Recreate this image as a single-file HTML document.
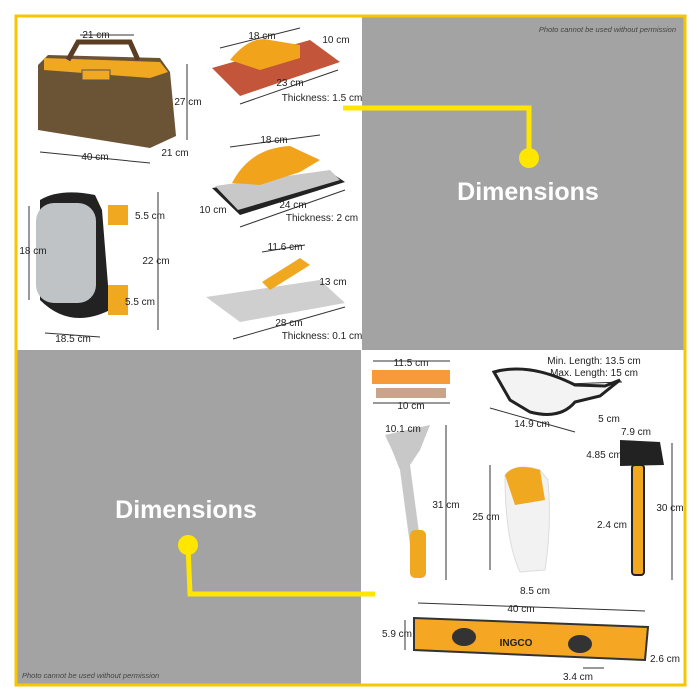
<!DOCTYPE html>
<html><head><style>
body{margin:0;width:700px;height:700px;background:#fff;overflow:hidden;font-family:"Liberation Sans",sans-serif}
svg{position:absolute;left:0;top:0}
</style></head><body>
<svg width="700" height="700" viewBox="0 0 700 700" font-family="Liberation Sans, sans-serif">
<rect x="0" y="0" width="700" height="700" fill="#fff"/>
<rect x="362" y="17" width="323" height="333" fill="#a3a3a3"/>
<rect x="17" y="350" width="344" height="334" fill="#a3a3a3"/>
<rect x="16" y="16" width="669" height="669" fill="none" stroke="#f7c600" stroke-width="3"/>
<text x="676" y="32" font-size="7.5" font-style="italic" fill="#444" text-anchor="end">Photo cannot be used without permission</text>
<text x="22" y="678" font-size="7.5" font-style="italic" fill="#444">Photo cannot be used without permission</text>
<polyline points="343,108 529,108 529,158" fill="none" stroke="#ffe600" stroke-width="5"/>
<circle cx="529" cy="158" r="10" fill="#ffe600"/>
<text x="528" y="200" font-size="25" font-weight="bold" fill="#fff" text-anchor="middle">Dimensions</text>
<polyline points="188,545 190,594 375,594" fill="none" stroke="#ffe600" stroke-width="5"/>
<circle cx="188" cy="545" r="10" fill="#ffe600"/>
<text x="186" y="518" font-size="25" font-weight="bold" fill="#fff" text-anchor="middle">Dimensions</text>

<g stroke="#333" stroke-width="1" fill="none">
<line x1="80" y1="35" x2="134" y2="35"/><line x1="187" y1="64" x2="187" y2="140"/>
<line x1="40" y1="152" x2="150" y2="163"/><line x1="29" y1="206" x2="29" y2="300"/>
<line x1="158" y1="192" x2="158" y2="330"/><line x1="45" y1="333" x2="100" y2="337"/>
<line x1="220" y1="48" x2="300" y2="28"/><line x1="240" y1="104" x2="338" y2="70"/>
<line x1="230" y1="147" x2="320" y2="135"/><line x1="240" y1="227" x2="345" y2="190"/>
<line x1="233" y1="339" x2="345" y2="307"/><line x1="262" y1="252" x2="305" y2="245"/>
<line x1="373" y1="361" x2="450" y2="361"/><line x1="373" y1="403" x2="450" y2="403"/>
<line x1="446" y1="425" x2="446" y2="580"/><line x1="490" y1="465" x2="490" y2="570"/>
<line x1="672" y1="443" x2="672" y2="580"/><line x1="418" y1="603" x2="645" y2="611"/>
<line x1="405" y1="620" x2="405" y2="650"/><line x1="583" y1="668" x2="604" y2="668"/>
<line x1="490" y1="408" x2="575" y2="432"/><line x1="566" y1="384" x2="622" y2="382"/>
</g>
<g font-size="10" fill="#222">
<path d="M38,65 L48,55 L160,58 L170,72 L176,136 L150,148 L38,130 Z" fill="#6b5436"/>
<path d="M44,58 L160,62 L168,72 L150,78 L44,70Z" fill="#f0a820"/>
<rect x="82" y="70" width="28" height="10" fill="#f0a820" stroke="#555"/>
<path d="M68,60 L78,42 L130,42 L138,60" fill="none" stroke="#5a3d22" stroke-width="5"/>
<text x="96" y="38" text-anchor="middle" fill="#222" stroke="none">21 cm</text>
<text x="188" y="105" text-anchor="middle">27 cm</text>
<text x="95" y="160" text-anchor="middle">40 cm</text>
<text x="175" y="156" text-anchor="middle">21 cm</text>
<path d="M40,200 Q60,188 95,195 L102,210 L110,310 Q70,330 40,300Z" fill="#222"/>
<rect x="36" y="203" width="60" height="100" rx="18" fill="#bfc3c6"/>
<rect x="108" y="205" width="20" height="20" fill="#f0a820"/>
<rect x="108" y="285" width="20" height="30" fill="#f0a820"/>
<text x="150" y="219" text-anchor="middle">5.5 cm</text>
<text x="33" y="254" text-anchor="middle">18 cm</text>
<text x="156" y="264" text-anchor="middle">22 cm</text>
<text x="140" y="305" text-anchor="middle">5.5 cm</text>
<text x="73" y="342" text-anchor="middle">18.5 cm</text>
<path d="M212,68 L310,40 L340,62 L240,96Z" fill="#c2553a"/>
<path d="M230,60 Q250,35 270,40 L300,45 L300,58 L260,70Z" fill="#f2a31c"/>
<text x="262" y="39" text-anchor="middle">18 cm</text>
<text x="336" y="43" text-anchor="middle">10 cm</text>
<text x="290" y="86" text-anchor="middle">23 cm</text>
<text x="322" y="101" text-anchor="middle">Thickness: 1.5 cm</text>
<path d="M212,188 L330,172 L345,182 L240,215Z" fill="#222"/>
<path d="M215,186 L330,170 L340,180 L238,210Z" fill="#c8c8c8"/>
<path d="M232,183 Q250,148 290,146 L320,160 L300,172 L260,185Z" fill="#f2a31c"/>
<text x="274" y="143" text-anchor="middle">18 cm</text>
<text x="213" y="213" text-anchor="middle">10 cm</text>
<text x="293" y="208" text-anchor="middle">24 cm</text>
<text x="322" y="221" text-anchor="middle">Thickness: 2 cm</text>
<path d="M206,297 L320,280 L345,303 L240,322Z" fill="#cfcfcf"/>
<path d="M262,282 L300,258 L310,265 L270,290Z" fill="#f0a820"/>
<text x="285" y="250" text-anchor="middle">11.6 cm</text>
<text x="333" y="285" text-anchor="middle">13 cm</text>
<text x="289" y="326" text-anchor="middle">28 cm</text>
<text x="322" y="339" text-anchor="middle">Thickness: 0.1 cm</text>
<rect x="372" y="370" width="78" height="14" fill="#f79a3a"/>
<rect x="376" y="388" width="70" height="10" fill="#c9a48a"/>
<text x="411" y="366" text-anchor="middle">11.5 cm</text>
<text x="411" y="409" text-anchor="middle">10 cm</text>
<path d="M494,372 Q530,362 575,385 L605,386 L620,380 L600,396 L575,402 Q560,420 530,412 L510,400Z" fill="#f3f3f3" stroke="#222" stroke-width="3"/>
<text x="594" y="364" text-anchor="middle">Min. Length: 13.5 cm</text>
<text x="594" y="376" text-anchor="middle">Max. Length: 15 cm</text>
<text x="532" y="427" text-anchor="middle">14.9 cm</text>
<text x="609" y="422" text-anchor="middle">5 cm</text>
<path d="M385,435 L430,425 L420,450 L410,465 L420,540 L410,545 L400,470 L392,450Z" fill="#c8c8c8"/>
<rect x="410" y="530" width="16" height="48" rx="5" fill="#f0a820"/>
<text x="403" y="432" text-anchor="middle">10.1 cm</text>
<text x="446" y="508" text-anchor="middle">31 cm</text>
<path d="M505,475 Q515,462 540,470 L548,480 Q552,525 545,570 L520,572 Q505,540 505,475Z" fill="#f2f2f2" stroke="#ddd"/>
<path d="M505,475 Q515,462 540,470 L545,500 L515,505Z" fill="#f0a820"/>
<text x="486" y="520" text-anchor="middle">25 cm</text>
<text x="535" y="594" text-anchor="middle">8.5 cm</text>
<text x="612" y="528" text-anchor="middle">2.4 cm</text>
<path d="M620,440 L660,442 L664,465 L620,466Z" fill="#222"/>
<rect x="632" y="465" width="12" height="110" rx="3" fill="#f0a820" stroke="#222" stroke-width="2"/>
<text x="636" y="435" text-anchor="middle">7.9 cm</text>
<text x="604" y="458" text-anchor="middle">4.85 cm</text>
<text x="670" y="511" text-anchor="middle">30 cm</text>
<path d="M414,618 L648,627 L645,660 L414,650Z" fill="#f5a623" stroke="#333" stroke-width="2"/>
<ellipse cx="464" cy="637" rx="12" ry="9" fill="#333"/>
<ellipse cx="580" cy="644" rx="12" ry="9" fill="#333"/>
<text x="516" y="646" font-size="10" font-weight="bold" fill="#222" text-anchor="middle">INGCO</text>
<text x="521" y="612" text-anchor="middle">40 cm</text>
<text x="397" y="637" text-anchor="middle">5.9 cm</text>
<text x="665" y="662" text-anchor="middle">2.6 cm</text>
<text x="578" y="680" text-anchor="middle">3.4 cm</text>
</g>
</svg>
</body></html>
